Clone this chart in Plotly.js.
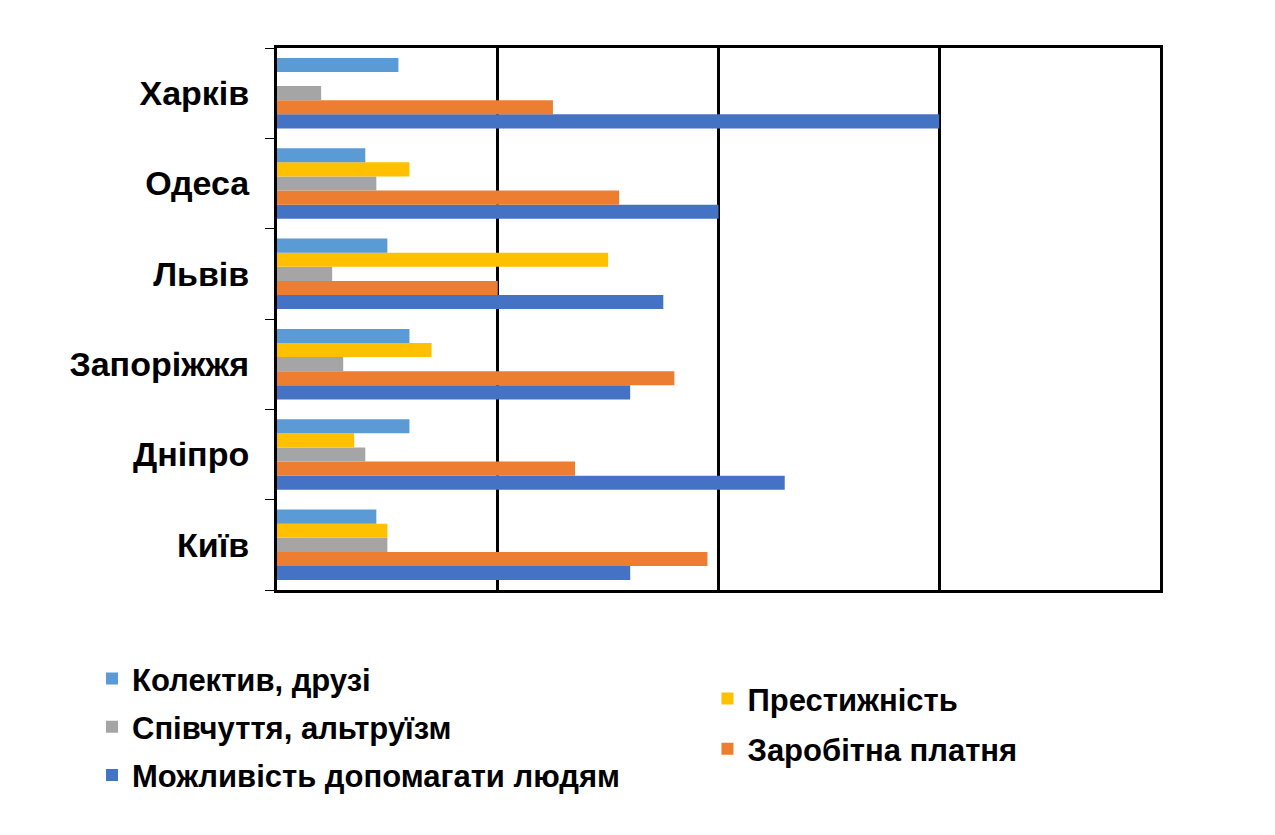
<!DOCTYPE html>
<html>
<head>
<meta charset="utf-8">
<script src="https://cdn.plot.ly/plotly-3.0.1.min.js"></script>
<style>
  html, body { margin: 0; padding: 0; background: #fff; }
  #chart { width: 1275px; height: 835px; }
</style>
</head>
<body>
<div id="chart"></div>
<script>
var cities = ["Київ", "Дніпро", "Запоріжжя", "Львів", "Одеса", "Харків"];

var kolektyv = [4.5, 6, 6, 5, 4, 5.5];
var prestyzh = [5, 3.5, 7, 15, 6, 0];
var spivchuttia = [5, 4, 3, 2.5, 4.5, 2];
var zarplata = [19.5, 13.5, 18, 10, 15.5, 12.5];
var mozhlyvist = [16, 23, 16, 17.5, 20, 30];

var font = "Liberation Sans, Arial, sans-serif";

// first trace is drawn at the bottom of each group
var trace1 = {
    y: cities, x: mozhlyvist, name: "Можливість допомагати людям",
    type: "bar", orientation: "h", legend: "legend", legendgroup: "a", legendrank: 3,
    marker: {color: "#4472C4"}
};
var trace2 = {
    y: cities, x: zarplata, name: "Заробітна платня",
    type: "bar", orientation: "h", legend: "legend2", legendgroup: "b", legendrank: 2,
    marker: {color: "#ED7D31"}
};
var trace3 = {
    y: cities, x: spivchuttia, name: "Співчуття, альтруїзм",
    type: "bar", orientation: "h", legend: "legend", legendgroup: "c", legendrank: 2,
    marker: {color: "#A5A5A5"}
};
var trace4 = {
    y: cities, x: prestyzh, name: "Престижність",
    type: "bar", orientation: "h", legend: "legend2", legendgroup: "d", legendrank: 1,
    marker: {color: "#FFC000"}
};
var trace5 = {
    y: cities, x: kolektyv, name: "Колектив, друзі",
    type: "bar", orientation: "h", legend: "legend", legendgroup: "e", legendrank: 1,
    marker: {color: "#5B9BD5"}
};

var data = [trace1, trace2, trace3, trace4, trace5];

var legendFont = {family: font, size: 31, color: "#000", weight: "bold"};

var layout = {
    width: 1275,
    height: 835,
    margin: {l: 277, r: 115, t: 48, b: 245},
    paper_bgcolor: "#fff",
    plot_bgcolor: "#fff",
    barmode: "group",
    bargap: 0.22,
    bargroupgap: 0,
    font: {family: font, color: "#000"},
    xaxis: {
        range: [0, 40],
        dtick: 10,
        showgrid: true,
        gridcolor: "#000",
        gridwidth: 2.5,
        zeroline: false,
        showline: true,
        linecolor: "#000",
        linewidth: 3,
        mirror: true,
        showticklabels: false,
        ticks: ""
    },
    yaxis: {
        type: "category",
        showline: true,
        linecolor: "#000",
        linewidth: 3,
        mirror: true,
        showgrid: false,
        ticks: "outside",
        tickson: "boundaries",
        ticklen: 9,
        tickwidth: 1,
        tickcolor: "#000",
        ticklabelstandoff: 18,
        tickfont: {family: font, size: 34, color: "#000", weight: "bold"}
    },
    showlegend: true,
    legend: {
        x: -0.2095, xanchor: "left",
        y: -0.114, yanchor: "top",
        traceorder: "grouped",
        tracegroupgap: 5,
        font: legendFont,
        bgcolor: "rgba(0,0,0,0)"
    },
    legend2: {
        x: 0.4875, xanchor: "left",
        y: -0.151, yanchor: "top",
        traceorder: "grouped",
        tracegroupgap: 7,
        font: legendFont,
        bgcolor: "rgba(0,0,0,0)"
    }
};

Plotly.newPlot("chart", data, layout, {displayModeBar: false});
</script>
</body>
</html>
